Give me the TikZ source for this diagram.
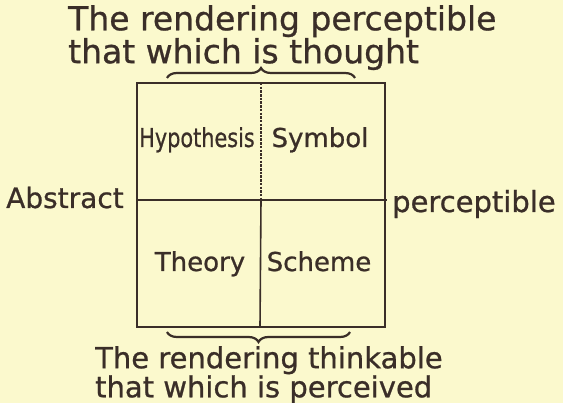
\documentclass[tikz,border=0pt]{standalone}
\usepackage{fontspec}
\setmainfont{DejaVu Sans}[FakeBold=0.8]
\usetikzlibrary{decorations.pathreplacing,positioning}
\definecolor{paper}{HTML}{FBF9CD}
\definecolor{ink}{HTML}{3A2E28}

\begin{document}
\begin{tikzpicture}[x=1pt, y=-1pt,
  lbl/.style={text=ink, inner sep=0pt, align=left},
  cell/.style={text=ink, inner sep=0pt, anchor=base, font=\fontsize{26}{28}\selectfont},
  edge/.style={draw=ink, line width=2.4pt},
  brc/.style={draw=ink, line width=2.2pt, decorate, decoration={brace, amplitude=10pt}},
]
\fill[paper] (0,0) rectangle (563,403);
\useasboundingbox (0,0) rectangle (563,403);

% corners and middles of the square
\coordinate (nw) at (137,83);
\coordinate (se) at (385,327);
\coordinate (n)  at (261,83);
\coordinate (s)  at (260,327);
\coordinate (w)  at (137,200);
\coordinate (e)  at (387,200);
\coordinate (c)  at (261,200);

\draw[edge] (nw) rectangle (se);
\draw[edge] (w) -- (e);
\draw[edge, line width=2pt, dash pattern=on 2.5pt off 1.2pt] (n) -- (c);
\draw[draw=ink, line width=1.6pt] (c) -- (s);

% cells
\node[cell] (hyp) at (197,147) {\scalebox{0.8}[1]{Hypothesis}};
\node[cell] (sym) at (320,147) {Symbol};
\node[cell] (the) at (200,271) {Theory};
\node[cell] (sch) at (319,271) {Scheme};

% side labels
\node[lbl, anchor=base west, font=\fontsize{28}{30}\selectfont] (abs) at (6,208) {Abstract};
\node[lbl, anchor=base west, font=\fontsize{29}{30}\selectfont] (per) at (392,212) {perceptible};

% braces
\coordinate (tbl) at (167,78);
\coordinate (tbr) at (355,78);
\coordinate (bbl) at (167,332);
\coordinate (bbr) at (350,332);
\draw[brc] (tbl) -- (tbr);
\draw[brc] (bbr) -- (bbl);

\node[lbl, anchor=north west, font=\fontsize{33}{28}\selectfont] (top) at (68,5)
  {The rendering perceptible\\that which is thought};
\node[lbl, anchor=north west, font=\fontsize{29}{22}\selectfont] (bot) at (95,346)
  {The rendering thinkable\\that which is perceived};
\end{tikzpicture}
\end{document}
